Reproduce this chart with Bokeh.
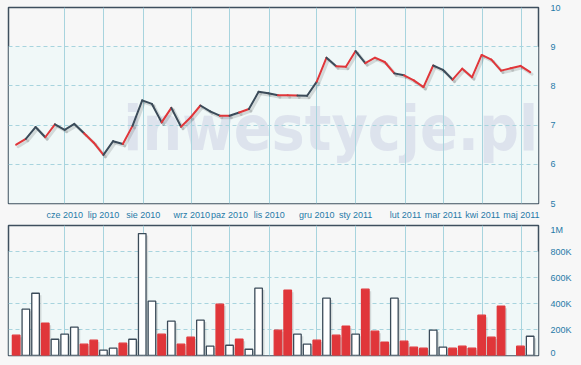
from bokeh.plotting import figure
from bokeh.models import FixedTicker, BoxAnnotation, Label, ColumnDataSource, GlobalInlineStyleSheet
from bokeh.layouts import column
from bokeh.embed import file_html
from bokeh.resources import INLINE

# ---- data ----
month_labels = ["cze 2010", "lip 2010", "sie 2010", "wrz 2010", "paz 2010", "lis 2010",
                "gru 2010", "sty 2011", "lut 2011", "mar 2011", "kwi 2011", "maj 2011"]
month_pos = [5.0, 9.0, 13.1, 18.1, 22.0, 26.1, 31.0, 35.0, 40.15, 44.05, 48.1, 52.1]

close = [6.50, 6.65, 6.95, 6.69, 7.02, 6.88, 7.03, 6.79, 6.55, 6.24,
         6.59, 6.52, 6.98, 7.63, 7.54, 7.07, 7.44, 6.96, 7.20, 7.50,
         7.35, 7.24, 7.24, 7.32, 7.41, 7.85, 7.81, 7.76, 7.76, 7.755,
         7.75, 8.11, 8.72, 8.50, 8.49, 8.89, 8.58, 8.72, 8.61, 8.32,
         8.27, 8.14, 7.97, 8.52, 8.41, 8.16, 8.44, 8.22, 8.79, 8.67,
         8.39, 8.45, 8.51, 8.35]

volume = [156, 356, 479, 248, 125, 164, 218, 87, 118, 41,
          56, 95, 125, 938, 418, 164, 264, 87, 141, 272,
          72, 395, 79, 125, 48, 518, 0, 195, 502, 164,
          87, 118, 441, 156, 225, 164, 510, 187, 102, 441,
          110, 64, 56, 195, 64, 56, 72, 56, 310, 141,
          379, 0, 72, 148]  # thousands

week_kind = list("rwwrwwwrrwwrwwwrwrrwwrwrwwwrrwwrwrrwrrrwrrrwwrrrrrrrrw")

price_ticks = [5, 6, 7, 8, 9, 10]
vol_ticks = [0, 200000, 400000, 600000, 800000, 1000000]
vol_tick_labels = ["0", "200K", "400K", "600K", "800K", "1M"]

# ---- styles ----
RED = "#e0363a"
DARK = "#3b4b59"
GRID = "#a8d4de"
BG = "#f7f7f7"
BAND = "#f0f8f8"
LABEL = "#1f7aa8"
FONT = "Liberation Sans"

idx = list(range(len(close)))


def style(p):
    p.background_fill_color = BG
    p.border_fill_color = BG
    p.outline_line_color = "#3e4f5e"
    p.outline_line_width = 1.5
    p.xgrid.grid_line_color = GRID
    p.xgrid.grid_line_width = 1
    p.ygrid.grid_line_color = GRID
    p.ygrid.grid_line_dash = "4 3"
    p.yaxis.axis_line_color = None
    p.yaxis.major_tick_line_color = None
    p.yaxis.minor_tick_line_color = None
    p.yaxis.major_tick_out = 0
    p.yaxis.major_tick_in = 0
    p.yaxis.minor_tick_out = 0
    p.yaxis.major_label_standoff = 12
    p.yaxis.major_label_text_font = FONT
    p.yaxis.major_label_text_font_size = "9px"
    p.yaxis.major_label_text_color = LABEL


# ---- price panel ----
p1 = figure(frame_width=530, frame_height=196, x_range=(-0.79, 53.86), y_range=(5, 10),
            y_axis_location="right", output_backend="svg", toolbar_location=None,
            min_border_left=8, min_border_top=7, min_border_bottom=21, min_border_right=35)
style(p1)
p1.xaxis.ticker = FixedTicker(ticks=month_pos)
p1.xaxis.major_label_overrides = {pos: lab for pos, lab in zip(month_pos, month_labels)}
p1.xaxis.axis_line_color = None
p1.xaxis.major_tick_line_color = None
p1.xaxis.minor_tick_line_color = None
p1.xaxis.major_tick_out = 0
p1.xaxis.major_tick_in = 0
p1.xaxis.minor_tick_out = 0
p1.xaxis.major_label_standoff = 6
p1.xaxis.major_label_text_font = FONT
p1.xaxis.major_label_text_font_size = "9px"
p1.xaxis.major_label_text_color = LABEL
p1.yaxis.ticker = FixedTicker(ticks=price_ticks)
p1.ygrid.ticker = FixedTicker(ticks=price_ticks[1:-1])

p1.add_layout(BoxAnnotation(top=9, fill_color=BAND, fill_alpha=1, line_color=None, level="image"))
p1.add_layout(Label(x=11.05, y=6.91, text="inwestycje.pl", text_font="DejaVu Sans Condensed",
                    text_font_style="bold", text_font_size="62px", text_color="#dde3ed",
                    text_baseline="alphabetic", level="image"))

seg_col = [RED if k == "r" else DARK for k in week_kind[:-1]]
shadow = ColumnDataSource(dict(x0=[i + 0.2 for i in idx[:-1]], x1=[i + 0.2 for i in idx[1:]],
                               y0=[c - 0.05 for c in close[:-1]], y1=[c - 0.05 for c in close[1:]]))
p1.segment("x0", "y0", "x1", "y1", source=shadow, line_color="#000000", line_alpha=0.12,
           line_width=3, line_cap="round")
segs = ColumnDataSource(dict(x0=idx[:-1], x1=idx[1:], y0=close[:-1], y1=close[1:], c=seg_col))
p1.segment("x0", "y0", "x1", "y1", source=segs, line_color="c", line_width=2, line_cap="round")

# ---- volume panel ----
p2 = figure(frame_width=530, frame_height=130, x_range=p1.x_range, y_range=(0, 1000000),
            y_axis_location="right", x_axis_location=None, output_backend="svg",
            toolbar_location=None, min_border_left=8, min_border_top=1, min_border_bottom=2,
            min_border_right=35)
style(p2)
p2.xgrid.ticker = FixedTicker(ticks=month_pos)
p2.yaxis.ticker = FixedTicker(ticks=vol_ticks)
p2.yaxis.major_label_overrides = {t: l for t, l in zip(vol_ticks, vol_tick_labels)}
p2.ygrid.ticker = FixedTicker(ticks=vol_ticks[1:-1])
p2.add_layout(BoxAnnotation(top=800000, fill_color=BAND, fill_alpha=1, line_color=None, level="image"))

bx, bt, bf, bl = [], [], [], []
for i, v, k in zip(idx, volume, week_kind):
    if v > 0:
        bx.append(i)
        bt.append(v * 1000)
        bf.append(RED if k == "r" else "#ffffff")
        bl.append(RED if k == "r" else DARK)
bars = ColumnDataSource(dict(x=bx, top=bt, fill=bf, line=bl,
                             sx=[x + 0.22 for x in bx], st=[t - 15000 for t in bt]))
p2.vbar(x="sx", top="st", bottom=-50000, width=0.78, source=bars, fill_color="#000000",
        fill_alpha=0.12, line_color=None)
p2.vbar(x="x", top="top", bottom=0, width=0.78, source=bars, fill_color="fill",
        line_color="line", line_width=1.3)

layout = column(p1, p2, stylesheets=[GlobalInlineStyleSheet(css="body{background:#f7f7f7;}")])
open("out.html", "w").write(file_html(layout, INLINE))
